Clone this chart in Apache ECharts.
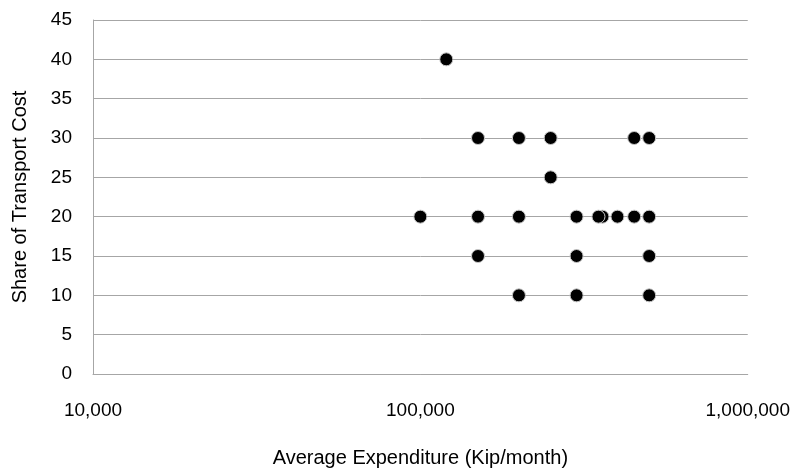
<!DOCTYPE html>
<html>
<head>
<meta charset="utf-8">
<script src="https://cdn.jsdelivr.net/npm/echarts@6/dist/echarts.min.js"></script>
<style>
  html, body { margin: 0; padding: 0; background: #fff; overflow: hidden; }
  #chart { width: 793px; height: 473px; }
</style>
</head>
<body>
<div id="chart"></div>
<script>
// Survey responses: monthly household expenditure vs. share spent on transport
const expenditure = [
  120000,
  150000, 200000, 250000, 450000, 500000,
  250000,
  100000, 150000, 200000, 300000, 360000, 350000, 400000, 450000, 500000,
  150000, 300000, 500000,
  200000, 300000, 500000
];
const transportShare = [
  40,
  30, 30, 30, 30, 30,
  25,
  20, 20, 20, 20, 20, 20, 20, 20, 20,
  15, 15, 15,
  10, 10, 10
];
const xTicks = [10000, 100000, 1000000];
const yMin = 0, yMax = 45, yStep = 5;

const points = expenditure.map((v, i) => [v, transportShare[i]]);
const FONT = "'Liberation Sans Narrow', 'Arial Narrow', 'Liberation Sans', Arial, sans-serif";

const chart = echarts.init(document.getElementById('chart'), null, { renderer: 'canvas' });
chart.setOption({
  animation: false,
  backgroundColor: '#ffffff',
  grid: { left: 93, right: 45, top: 20, bottom: 96, containLabel: false },
  xAxis: {
    type: 'log',
    logBase: 10,
    min: xTicks[0],
    max: xTicks[xTicks.length - 1],
    name: 'Average Expenditure (Kip/month)',
    nameLocation: 'middle',
    nameGap: 74,
    nameTextStyle: { fontFamily: FONT, fontSize: 20, color: '#000' },
    axisLine: { show: true, lineStyle: { color: '#a6a6a6', width: 1 } },
    axisTick: { show: false },
    splitLine: { show: false },
    minorTick: { show: false },
    axisLabel: {
      margin: 27,
      fontFamily: FONT, fontSize: 19, color: '#000',
      formatter: v => xTicks.some(t => Math.abs(t - v) / t < 1e-6) ? Math.round(v).toLocaleString('en-US') : ''
    }
  },
  yAxis: {
    type: 'value',
    min: yMin,
    max: yMax,
    interval: yStep,
    name: 'Share of Transport Cost',
    nameLocation: 'middle',
    nameGap: 63,
    nameTextStyle: { fontFamily: FONT, fontSize: 20, color: '#000' },
    axisLine: { show: true, lineStyle: { color: '#a6a6a6', width: 1 } },
    axisTick: { show: false },
    splitLine: { show: true, lineStyle: { color: '#a6a6a6', width: 1 } },
    axisLabel: { margin: 21, fontFamily: FONT, fontSize: 19, color: '#000' }
  },
  series: [{
    type: 'scatter',
    data: points,
    symbol: 'circle',
    symbolSize: 13,
    itemStyle: { color: '#000', borderColor: '#c8c8c8', borderWidth: 1, opacity: 1 },
    emphasis: { disabled: true }
  }]
});
</script>
</body>
</html>
